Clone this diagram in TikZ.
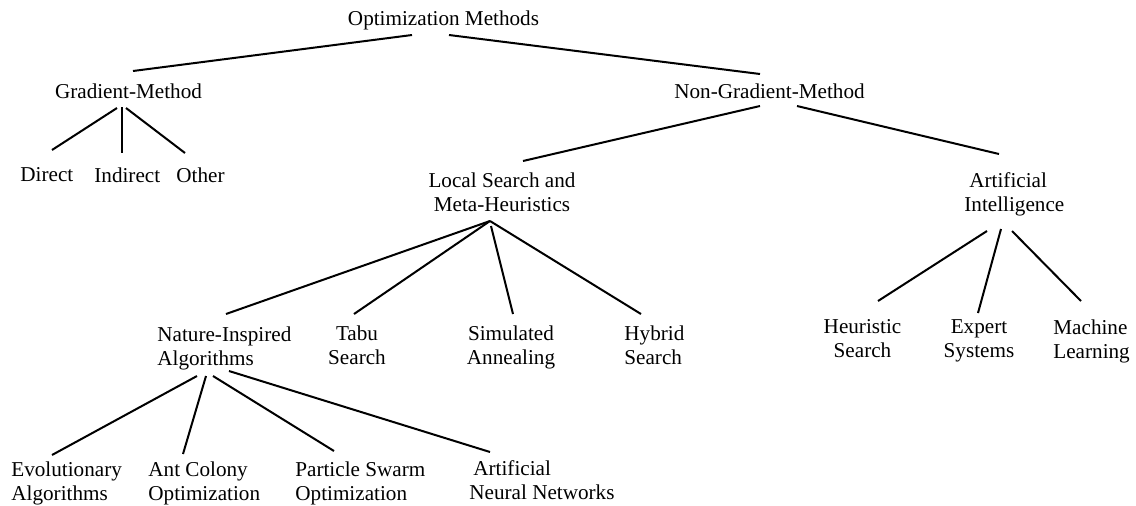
\documentclass[tikz,border=0pt]{standalone}
\usepackage{fontspec}
\setmainfont{Liberation Serif}
\tikzset{
  lbl/.style    = {anchor=north west, align=left, inner sep=0pt,
                   font=\fontsize{10.58}{12.25}\selectfont},
  clbl/.style   = {lbl, anchor=north, align=center},
  branch/.style = {line width=1pt}
}

\begin{document}
\begin{tikzpicture}[x=0.5pt, y=-0.5pt]
    \useasboundingbox (0,0) rectangle (1136,505);

    % levels 0 and 1
    \node[clbl] (root) at (443.5,10) {Optimization Methods};
    \node[clbl] (grad) at (128.5,83) {Gradient-Method};
    \node[clbl] (ngrad) at (769.5,83) {Non-Gradient-Method};

    \node[lbl] (direct) at (20,167) {Direct};
    \node[lbl] (indirect) at (94,167) {Indirect};
    \node[lbl] (other) at (176,167) {Other};

    \node[clbl] (lsmh) at (502,172) {Local Search and\\Meta-Heuristics};
    \node[lbl] (ai) at (964,172) {\hspace*{2.5pt}Artificial\\Intelligence};

    % children of local search / AI
    \node[lbl] (nia) at (157,326) {Nature-Inspired\\Algorithms};
    \node[clbl] (tabu) at (357,325) {Tabu\\Search};
    \node[clbl] (sa) at (511,325) {Simulated\\Annealing};
    \node[lbl] (hybrid) at (624,325) {Hybrid\\Search};

    \node[clbl] (heur) at (862.5,319) {Heuristic\\Search};
    \node[clbl] (expert) at (979,319) {Expert\\Systems};
    \node[lbl] (ml) at (1053,319) {Machine\\Learning};

    % nature-inspired family
    \node[lbl] (ea) at (11,461) {Evolutionary\\Algorithms};
    \node[lbl] (aco) at (148,461) {Ant Colony\\Optimization};
    \node[lbl] (pso) at (295,461) {Particle Swarm\\Optimization};
    \node[lbl] (ann) at (469,460) {\hspace*{2pt}Artificial\\Neural Networks};

    \draw[branch] ([shift={(-31.5,25)}]root.north) -- ([shift={(4.5,-12)}]grad.north);
    \draw[branch] ([shift={(5.5,25)}]root.north) -- ([shift={(-9.5,-9)}]ngrad.north);

    \draw[branch] ([shift={(-11.5,25)}]grad.north) -- ([shift={(32,-17)}]direct.north west);
    \draw[branch] ([shift={(-6.5,24)}]grad.north) -- ([shift={(28,-14)}]indirect.north west);
    \draw[branch] ([shift={(-2.5,25)}]grad.north) -- ([shift={(9,-14)}]other.north west);

    \draw[branch] ([shift={(-9.5,23)}]ngrad.north) -- ([shift={(21,-11)}]lsmh.north);
    \draw[branch] ([shift={(27.5,23)}]ngrad.north) -- ([shift={(35,-18)}]ai.north west);

    \draw[branch] ([shift={(-12,49)}]lsmh.north) -- ([shift={(69,-12)}]nia.north west);
    \draw[branch] ([shift={(-12,49)}]lsmh.north) -- ([shift={(-3,-11)}]tabu.north);
    \draw[branch] ([shift={(-11,54)}]lsmh.north) -- ([shift={(2,-11)}]sa.north);
    \draw[branch] ([shift={(-12,49)}]lsmh.north) -- ([shift={(17,-11)}]hybrid.north west);

    \draw[branch] ([shift={(23,59)}]ai.north west) -- ([shift={(15.5,-18)}]heur.north);
    \draw[branch] ([shift={(37,57)}]ai.north west) -- ([shift={(-1,-6)}]expert.north);
    \draw[branch] ([shift={(48,59)}]ai.north west) -- ([shift={(28,-18)}]ml.north west);

    \draw[branch] ([shift={(40,50)}]nia.north west) -- ([shift={(41,-6)}]ea.north west);
    \draw[branch] ([shift={(49,50)}]nia.north west) -- ([shift={(35,-7)}]aco.north west);
    \draw[branch] ([shift={(56,50)}]nia.north west) -- ([shift={(39,-10)}]pso.north west);
    \draw[branch] ([shift={(72,45)}]nia.north west) -- ([shift={(21,-8)}]ann.north west);
\end{tikzpicture}
\end{document}
